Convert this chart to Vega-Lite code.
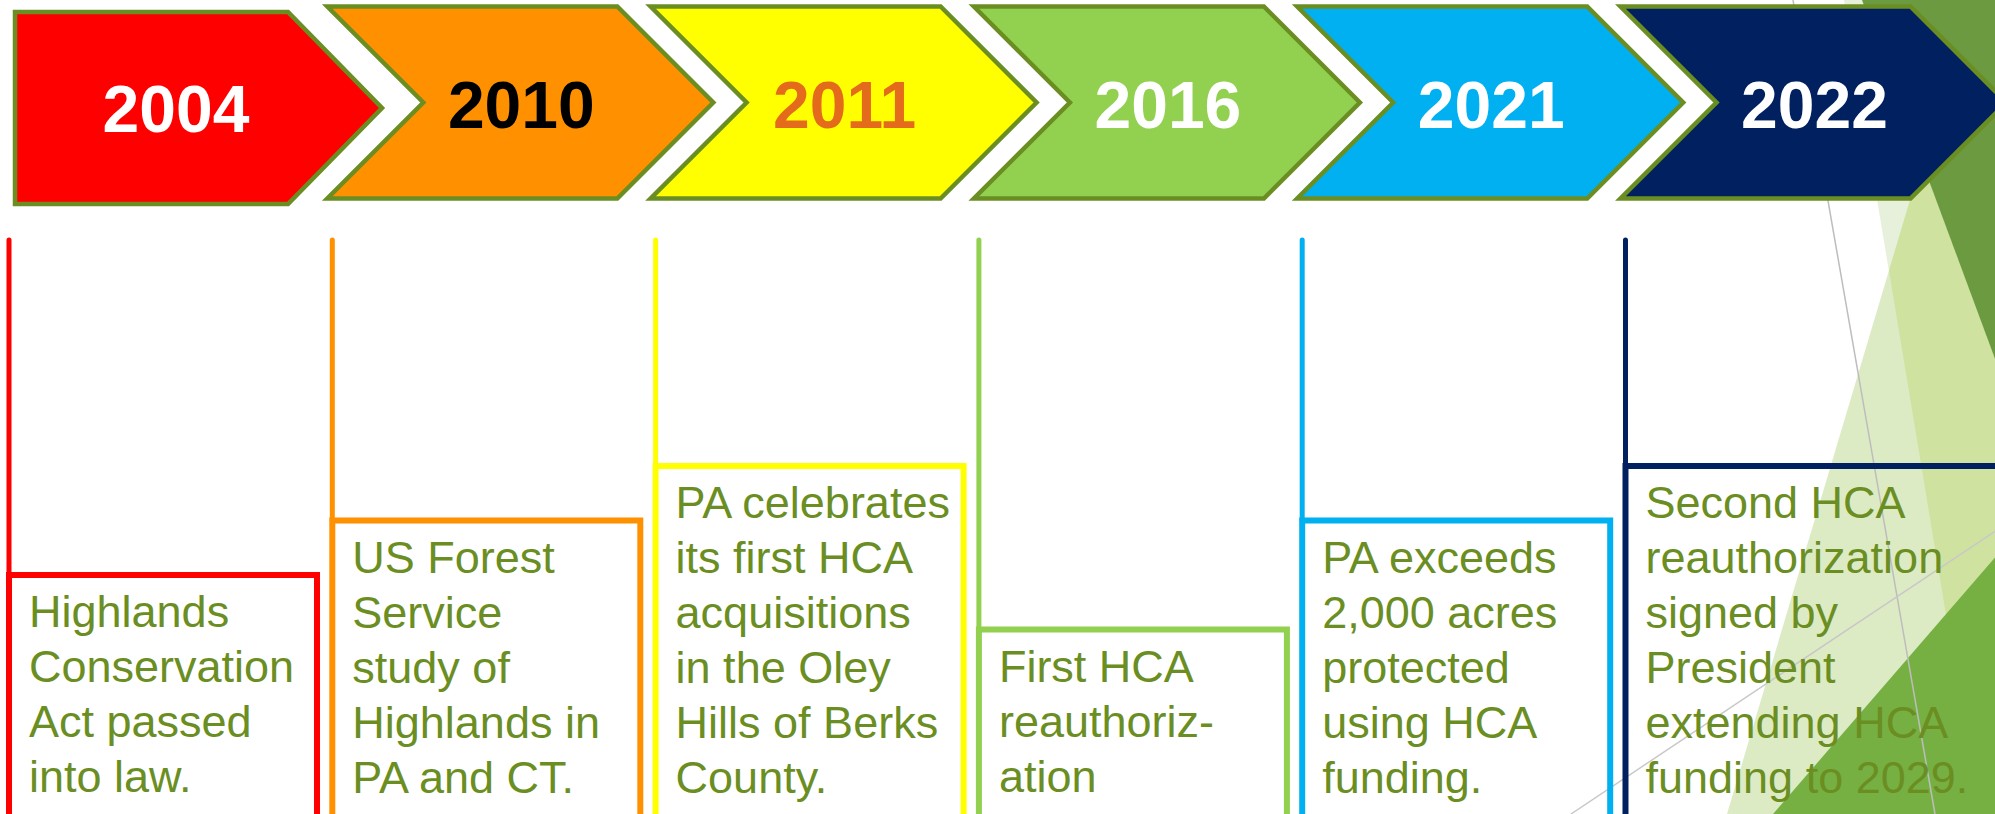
{
  "$schema": "https://vega.github.io/schema/vega-lite/v6.json",
  "width": 1995,
  "height": 814,
  "autosize": {"type": "none"},
  "padding": 0,
  "background": "white",
  "config": {"view": {"stroke": null}},
  "data": {"values": [
    {"year": "2004", "lines": 4, "text": "Highlands\nConservation\nAct passed\ninto law."},
    {"year": "2010", "lines": 5, "text": "US Forest\nService\nstudy of\nHighlands in\nPA and CT."},
    {"year": "2011", "lines": 6, "text": "PA celebrates\nits first HCA\nacquisitions\nin the Oley\nHills of Berks\nCounty."},
    {"year": "2016", "lines": 3, "text": "First HCA\nreauthoriz-\nation"},
    {"year": "2021", "lines": 5, "text": "PA exceeds\n2,000 acres\nprotected\nusing HCA\nfunding."},
    {"year": "2022", "lines": 6, "text": "Second HCA\nreauthorization\nsigned by\nPresident\nextending HCA\nfunding to 2029."}
  ]},
  "layer": [
    {
      "transform": [{"filter": "datum.year === '2022'"}],
      "mark": {"type": "point", "shape": "M0.645,-8.14L2.16,-8.14L2.16,0L1.995,0Z", "size": 40000, "filled": true, "fill": "#E7F0DA", "strokeWidth": 0, "opacity": 1},
      "encoding": {
        "x": {"field": "year", "type": "nominal", "scale": {"domain": ["2004","2010","2011","2016","2021","2022"], "paddingInner": 0.0473, "paddingOuter": 0.10905, "align": 0.1277}, "axis": null},
        "y": {"datum": -0.385, "type": "quantitative", "scale": {"domain": [-0.385, 14.55], "zero": false, "nice": false}, "axis": null}
      }
    },
    {
      "transform": [{"filter": "datum.year === '2022'"}],
      "mark": {"type": "point", "shape": "M1.901,-8.14L2.16,-8.14L2.16,0L-0.525,0Z", "size": 40000, "filled": true, "fill": "#DDEBC4", "strokeWidth": 0, "opacity": 1},
      "encoding": {
        "x": {"field": "year", "type": "nominal", "axis": null},
        "y": {"datum": -0.385, "type": "quantitative", "axis": null}
      }
    },
    {
      "transform": [{"filter": "datum.year === '2022'"}],
      "mark": {"type": "point", "shape": "M1.901,-8.14L2.16,-8.14L2.16,0L1.995,0L1.095,-5.433Z", "size": 40000, "filled": true, "fill": "#CFE2A0", "strokeWidth": 0, "opacity": 1},
      "encoding": {
        "x": {"field": "year", "type": "nominal", "axis": null},
        "y": {"datum": -0.385, "type": "quantitative", "axis": null}
      }
    },
    {
      "transform": [{"filter": "datum.year === '2022'"}],
      "mark": {"type": "point", "shape": "M0.825,-8.14L2.16,-8.14L2.16,-4.54Z", "size": 40000, "filled": true, "fill": "#6B9A41", "strokeWidth": 0, "opacity": 1},
      "encoding": {
        "x": {"field": "year", "type": "nominal", "axis": null},
        "y": {"datum": -0.385, "type": "quantitative", "axis": null}
      }
    },
    {
      "transform": [{"filter": "datum.year === '2022'"}],
      "mark": {"type": "point", "shape": "M-0.065,0L2.16,-2.57L2.16,0Z", "size": 40000, "filled": true, "fill": "#76B043", "strokeWidth": 0, "opacity": 1},
      "encoding": {
        "x": {"field": "year", "type": "nominal", "axis": null},
        "y": {"datum": -0.385, "type": "quantitative", "axis": null}
      }
    },
    {
      "transform": [{"filter": "datum.year === '2022'"}],
      "mark": {"type": "point", "shape": "M0.135,-8.14L1.555,0", "size": 40000, "filled": false, "stroke": "#BDBDBD", "strokeWidth": 1.5, "opacity": 1},
      "encoding": {
        "x": {"field": "year", "type": "nominal", "axis": null},
        "y": {"datum": -0.385, "type": "quantitative", "axis": null}
      }
    },
    {
      "transform": [{"filter": "datum.year === '2022'"}],
      "mark": {"type": "point", "shape": "M-2.085,0L2.16,-2.83", "size": 40000, "filled": false, "stroke": "#C8C8C8", "strokeWidth": 1.5, "opacity": 1},
      "encoding": {
        "x": {"field": "year", "type": "nominal", "axis": null},
        "y": {"datum": -0.385, "type": "quantitative", "axis": null}
      }
    },
    {
      "transform": [{"filter": "datum.year === '2004'"}],
      "mark": {"type": "point", "shape": "M0.06,-0.96L2.79,-0.96L3.73,0L2.79,0.96L0.06,0.96Z", "size": 40000, "filled": true, "opacity": 1, "stroke": "#6B8E23", "strokeWidth": 4.5, "strokeJoin": "miter"},
      "encoding": {
        "x": {"field": "year", "type": "nominal", "bandPosition": 0, "axis": null},
        "y": {"datum": 12.568, "type": "quantitative", "axis": null},
        "color": {"field": "year", "type": "nominal", "scale": {"domain": ["2004","2010","2011","2016","2021","2022"], "range": ["#FF0000","#FF9100","#FFFF00","#92D050","#00B0F0","#002060"]}, "legend": null}
      }
    },
    {
      "transform": [{"filter": "datum.year !== '2004'"}],
      "mark": {"type": "point", "shape": "M-0.05,-0.96L2.85,-0.96L3.81,0L2.85,0.96L-0.05,0.96L0.91,0Z", "size": 40000, "filled": true, "opacity": 1, "stroke": "#6B8E23", "strokeWidth": 4.5, "strokeJoin": "miter"},
      "encoding": {
        "x": {"field": "year", "type": "nominal", "bandPosition": 0, "axis": null},
        "y": {"datum": 12.669, "type": "quantitative", "axis": null},
        "color": {"field": "year", "type": "nominal", "legend": null}
      }
    },
    {
      "transform": [{"filter": "datum.year === '2004'"}],
      "mark": {"type": "text", "align": "center", "baseline": "alphabetic", "dx": 167, "font": "Liberation Sans", "fontWeight": "bold", "fontSize": 66, "fill": "#FFFFFF"},
      "encoding": {
        "x": {"field": "year", "type": "nominal", "bandPosition": 0, "axis": null},
        "y": {"datum": 12.128, "type": "quantitative", "axis": null},
        "text": {"field": "year", "type": "nominal"}
      }
    },
    {
      "transform": [{"filter": "datum.year !== '2004'"}],
      "mark": {"type": "text", "align": "center", "baseline": "alphabetic", "dx": 189, "font": "Liberation Sans", "fontWeight": "bold", "fontSize": 66},
      "encoding": {
        "x": {"field": "year", "type": "nominal", "bandPosition": 0, "axis": null},
        "y": {"datum": 12.21, "type": "quantitative", "axis": null},
        "text": {"field": "year", "type": "nominal"},
        "fill": {"field": "year", "type": "nominal", "scale": {"domain": ["2010","2011","2016","2021","2022"], "range": ["#000000","#E56B1C","#FFFFFF","#FFFFFF","#FFFFFF"]}, "legend": null}
      }
    },
    {
      "mark": {"type": "rule", "strokeWidth": 5, "strokeCap": "round"},
      "encoding": {
        "x": {"field": "year", "type": "nominal", "bandPosition": 0, "axis": null},
        "y": {"field": "lines", "type": "quantitative", "axis": null},
        "y2": {"datum": 10.147},
        "color": {"field": "year", "type": "nominal", "legend": null}
      }
    },
    {
      "transform": [{"filter": "datum.year !== '2022'"}],
      "mark": {"type": "rect", "filled": false, "strokeWidth": 6},
      "encoding": {
        "x": {"field": "year", "type": "nominal", "axis": null},
        "y": {"field": "lines", "type": "quantitative", "axis": null},
        "y2": {"datum": -0.6},
        "color": {"field": "year", "type": "nominal", "legend": null}
      }
    },
    {
      "transform": [{"filter": "datum.year === '2022'"}],
      "mark": {"type": "point", "shape": "M0,8L0,0L4,0", "size": 40000, "filled": false, "opacity": 1, "strokeWidth": 6, "strokeJoin": "miter"},
      "encoding": {
        "x": {"field": "year", "type": "nominal", "bandPosition": 0, "axis": null},
        "y": {"field": "lines", "type": "quantitative", "axis": null},
        "color": {"field": "year", "type": "nominal", "legend": null}
      }
    },
    {
      "mark": {"type": "text", "align": "left", "baseline": "alphabetic", "dx": 20, "dy": 52, "font": "Liberation Sans", "fontSize": 45, "lineHeight": 55, "lineBreak": "\n", "fill": "#6B8E23"},
      "encoding": {
        "x": {"field": "year", "type": "nominal", "bandPosition": 0, "axis": null},
        "y": {"field": "lines", "type": "quantitative", "axis": null},
        "text": {"field": "text", "type": "nominal"}
      }
    }
  ]
}
